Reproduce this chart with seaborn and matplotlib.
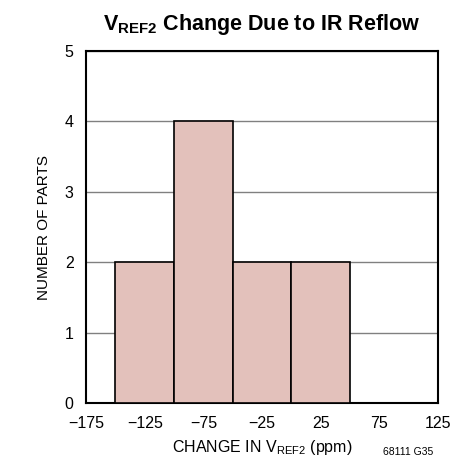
import numpy as np
import pandas as pd
import matplotlib
matplotlib.use("Agg")
import matplotlib.pyplot as plt
import seaborn as sns

# data
bin_edges = [-150, -100, -50, 0, 50]
bin_centers = [-125, -75, -25, 25]
parts = [2, 4, 2, 2]
x_ticks = [-175, -125, -75, -25, 25, 75, 125]
y_ticks = [0, 1, 2, 3, 4, 5]

df = pd.DataFrame({"change": bin_centers, "parts": parts})

sns.set_style("white")
plt.rcParams['font.family'] = ['Liberation Sans', 'DejaVu Sans']
plt.rcParams['mathtext.default'] = 'regular'
plt.rcParams['axes.unicode_minus'] = True
plt.rcParams['text.color'] = 'black'
plt.rcParams['axes.labelcolor'] = 'black'

fig = plt.figure(figsize=(4.65, 4.71), dpi=100)
ax = fig.add_axes([0.185, 0.144, 0.757, 0.748])

sns.histplot(data=df, x="change", weights="parts", bins=bin_edges, ax=ax,
             color="#e3c1bb", alpha=1, edgecolor="black", linewidth=1.2, zorder=3)

ax.set_xlim(-175, 125)
ax.set_ylim(0, 5)
ax.set_xticks(x_ticks)
ax.set_yticks(y_ticks)
ax.yaxis.grid(True, color="#808080", linewidth=1, zorder=0)
ax.set_axisbelow(True)
for s in ax.spines.values():
    s.set_color("black")
    s.set_linewidth(1.5)
ax.tick_params(length=0, labelsize=11.5, pad=9, colors="black")

ax.set_xlabel("CHANGE IN V$_{REF2}$ (ppm)", fontsize=11.5, labelpad=5, color="black")
ax.set_ylabel("NUMBER OF PARTS", fontsize=11, labelpad=10, color="black")
ax.set_title("V$_{REF2}$ Change Due to IR Reflow", fontsize=15.5, fontweight="bold",
             pad=15, color="black")

fig.text(0.931, 0.033, "68111 G35", fontsize=7.5, ha="right", color="black")

plt.savefig("out.png", dpi=100)
